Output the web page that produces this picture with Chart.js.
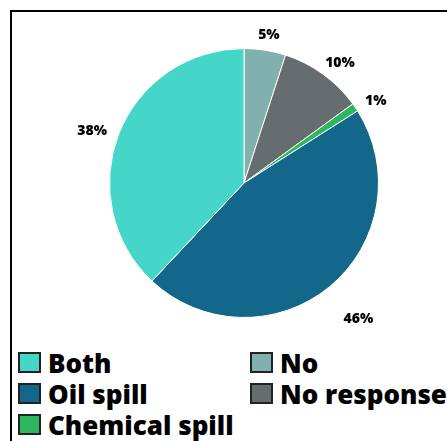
<!DOCTYPE html>
<html>
<head>
<meta charset="utf-8">
<script src="https://cdn.jsdelivr.net/npm/chart.js@4/dist/chart.umd.min.js"></script>
<style>
  body { margin: 0; width: 447px; height: 441px; overflow: hidden; background: #fff; font-family: 'Open Sans', sans-serif; }
  .frame { position: absolute; left: 10px; top: 10px; width: 600px; height: 600px; border-left: 2px solid #000; border-top: 2px solid #000; }
  .chart-wrap { position: absolute; left: 12px; top: 12px; width: 435px; height: 333px; }
  #chart__legend { position: absolute; left: 18px; top: 348px; }
  .chart__legend { display: grid; grid-template-columns: 232px 260px; grid-template-rows: repeat(3, 31px); grid-auto-flow: column; margin: 0; padding: 0; list-style: none; }
  .legend__list-item { display: flex; align-items: center; height: 31px; white-space: nowrap; }
  .legend-item__icon { display: inline-block; flex: none; width: 19px; height: 17px; border: 2px solid #222; margin-right: 7px; margin-top: -2px; }
  .legend-item__text { margin: 0; font-size: 26px; font-weight: 800; color: #000; line-height: 31px; }
</style>
</head>
<body>
<div class="frame"></div>
<div class="chart-wrap"><canvas id="pie-chart"></canvas></div>
<div id="chart__legend"></div>
<script>
const labels = ['No', 'No response', 'Chemical spill', 'Oil spill', 'Both'];
const shares = [5, 10, 1, 46, 38];
const colors = ['#80b1ae', '#666d6f', '#2db65f', '#13678a', '#45d6c8'];
const legendOrder = ['Both', 'Oil spill', 'Chemical spill', 'No', 'No response'];

Chart.defaults.font.family = "'Open Sans', sans-serif";

const pieChart = document.getElementById('pie-chart');

const htmlLegendPlugin = {
  id: 'htmlLegend',
  afterUpdate(chart, args, options) {
    const container = document.getElementById(options.containerID);
    let ul = container.querySelector('ul');
    if (!ul) {
      ul = document.createElement('ul');
      ul.classList.add('chart__legend');
      container.appendChild(ul);
    }
    while (ul.firstChild) ul.firstChild.remove();

    const items = chart.options.plugins.legend.labels.generateLabels(chart);
    legendOrder.forEach(name => {
      const item = items.find(i => i.text === name);
      const li = document.createElement('li');
      li.classList.add('legend__list-item');
      const box = document.createElement('span');
      box.classList.add('legend-item__icon');
      box.style.background = item.fillStyle;
      const p = document.createElement('p');
      p.classList.add('legend-item__text');
      p.appendChild(document.createTextNode(item.text));
      li.appendChild(box);
      li.appendChild(p);
      ul.appendChild(li);
    });
  }
};

// percent labels just outside each slice
const outsideLabels = {
  id: 'outsideLabels',
  afterDatasetsDraw(chart, args, options) {
    const ctx = chart.ctx;
    const meta = chart.getDatasetMeta(0);
    ctx.save();
    ctx.font = '800 14px "Open Sans"';
    ctx.fillStyle = '#000';
    ctx.textAlign = 'center';
    ctx.textBaseline = 'middle';
    meta.data.forEach((arc, i) => {
      const p = arc.getProps(['x', 'y', 'startAngle', 'endAngle', 'outerRadius'], true);
      const mid = (p.startAngle + p.endAngle) / 2;
      const text = chart.data.datasets[0].data[i] + '%';
      const w = ctx.measureText(text).width;
      const gap = options.gap + (options.extra[chart.data.labels[i]] || 0);
      const cx = Math.cos(mid), cy = Math.sin(mid);
      const x = p.x + cx * (p.outerRadius + gap) + cx * w / 2;
      const y = p.y + cy * (p.outerRadius + gap) + cy * 6 + 5;
      ctx.fillText(text, x, y);
    });
    ctx.restore();
  }
};

new Chart(pieChart, {
  type: 'pie',
  data: {
    labels: labels,
    datasets: [{
      data: shares,
      backgroundColor: colors,
      borderColor: '#fff',
      borderWidth: 1
    }]
  },
  options: {
    animation: false,
    responsive: true,
    maintainAspectRatio: false,
    layout: { padding: { left: 97, right: 68, top: 36, bottom: 27 } },
    plugins: {
      legend: { display: false },
      tooltip: { enabled: false },
      htmlLegend: { containerID: 'chart__legend' },
      outsideLabels: { gap: 14, extra: { 'Oil spill': 16 } }
    }
  },
  plugins: [htmlLegendPlugin, outsideLabels]
});
</script>
</body>
</html>
